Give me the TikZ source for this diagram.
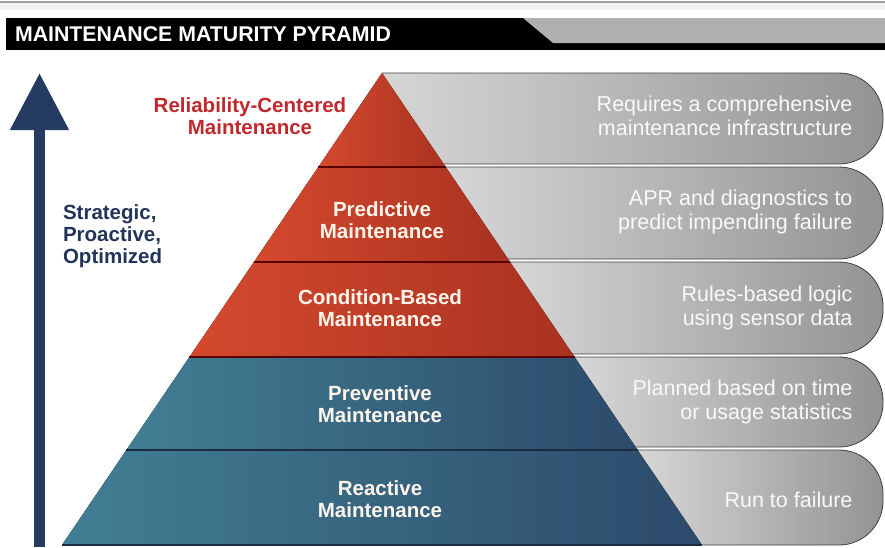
\documentclass[tikz,border=0pt]{standalone}
\usepackage{fontspec}
\setmainfont{Liberation Sans}
\usepackage{tikz}
\usetikzlibrary{arrows.meta}
\definecolor{redL}{HTML}{D4492E}
\definecolor{redR}{HTML}{A93220}
\definecolor{blueL}{HTML}{417F94}
\definecolor{blueR}{HTML}{2D4A6B}
\definecolor{bandL}{HTML}{D6D6D6}
\definecolor{bandR}{HTML}{939393}
\definecolor{navy}{HTML}{263B62}
\definecolor{rcmred}{HTML}{C0282E}
\definecolor{hdrgray}{HTML}{B1B0B0}
\tikzstyle{Band}=[left color=bandL, right color=bandR, draw=black!75, line width=0.8pt, rounded corners=44pt]
\tikzstyle{RedTier}=[left color=redL, right color=redR]
\tikzstyle{BlueTier}=[left color=blueL, right color=blueR]
\tikzstyle{TierLine}=[line width=1.2pt]
\tikzstyle{TierLabel}=[text=white!92!orange, font=\fontsize{20.5}{22}\selectfont\bfseries, align=center]
\tikzstyle{BandLabel}=[text=white!95!gray, font=\fontsize{21.5}{24}\selectfont, align=right, anchor=east]

\begin{document}
\begin{tikzpicture}[x=1pt, y=-1pt]
    \useasboundingbox (0,0) rectangle (885,547);

    % header
    \fill[gray!10] (0,3) rectangle (885,10);
    \draw[gray!75, line width=2pt] (0,2) -- (885,2);
    \fill[black] (6,18) rectangle (885,50);
    \fill[hdrgray] (523,18) -- (885,18) -- (885,43) -- (553,43) -- cycle;
    \path (11.5,34) node[anchor=west, text=white, font=\fontsize{21.3}{23}\selectfont\bfseries] (title) {MAINTENANCE MATURITY PYRAMID};

    % gray bands behind the pyramid
    \path[Band] (382,73) -- (883,73) -- (883,164) -- (382,164);
    \path[Band] (445.7,167) -- (883,167) -- (883,259) -- (445.7,259);
    \path[Band] (510.1,262) -- (883,262) -- (883,354) -- (510.1,354);
    \path[Band] (574.6,357) -- (883,357) -- (883,447) -- (574.6,447);
    \path[Band] (637.6,450) -- (883,450) -- (883,545) -- (637.6,545);

    % pyramid tiers
    \fill[RedTier] (382,73) -- (445.7,167) -- (318.3,167) -- cycle;
    \fill[RedTier] (318.3,167) -- (445.7,167) -- (510.1,262) -- (253.9,262) -- cycle;
    \fill[RedTier] (253.9,262) -- (510.1,262) -- (574.6,357) -- (189.4,357) -- cycle;
    \fill[BlueTier] (189.4,357) -- (574.6,357) -- (637.6,450) -- (126.4,450) -- cycle;
    \fill[BlueTier] (126.4,450) -- (637.6,450) -- (702,545) -- (62,545) -- cycle;

    \draw[TierLine, red!35!black] (318.3,167) -- (445.7,167);
    \draw[TierLine, red!35!black] (253.9,262) -- (510.1,262);
    \draw[TierLine, red!35!black] (189.4,357) -- (574.6,357);
    \draw[TierLine, blueR!60!black] (126.4,450) -- (637.6,450);
    \draw[TierLine, blueR!60!black] (62,545) -- (702,545);

    % tier labels
    \path
    (250,116) node[TierLabel, text=rcmred] (rcm) {Reliability-Centered\\Maintenance}
    (382,220) node[TierLabel] (pred) {Predictive\\Maintenance}
    (380,308) node[TierLabel] (cbm) {Condition-Based\\Maintenance}
    (380,404) node[TierLabel] (prev) {Preventive\\Maintenance}
    (380,499) node[TierLabel] (react) {Reactive\\Maintenance};

    % band notes
    \path
    (856,116) node[BandLabel] (rcmnote) {Requires a comprehensive\\maintenance infrastructure}
    (856,212) node[BandLabel] (prednote) {APR and diagnostics to\\predict impending failure}
    (856,308) node[BandLabel] (cbmnote) {Rules-based logic\\using sensor data}
    (856,402) node[BandLabel] (prevnote) {Planned based on time\\or usage statistics}
    (856,500) node[BandLabel] (reactnote) {Run to failure};

    % strategic arrow
    \coordinate (arrowfoot) at (39.5,547);
    \coordinate (arrowtip) at (39.5,73);
    \draw[navy, line width=11pt, -{Triangle[width=56pt,length=57pt]}] (arrowfoot) -- (arrowtip);
    \path (59.5,236) node[anchor=west, align=left, text=navy!90!black, font=\fontsize{20.5}{22}\selectfont\bfseries] (strat) {Strategic,\\Proactive,\\Optimized};
\end{tikzpicture}
\end{document}
